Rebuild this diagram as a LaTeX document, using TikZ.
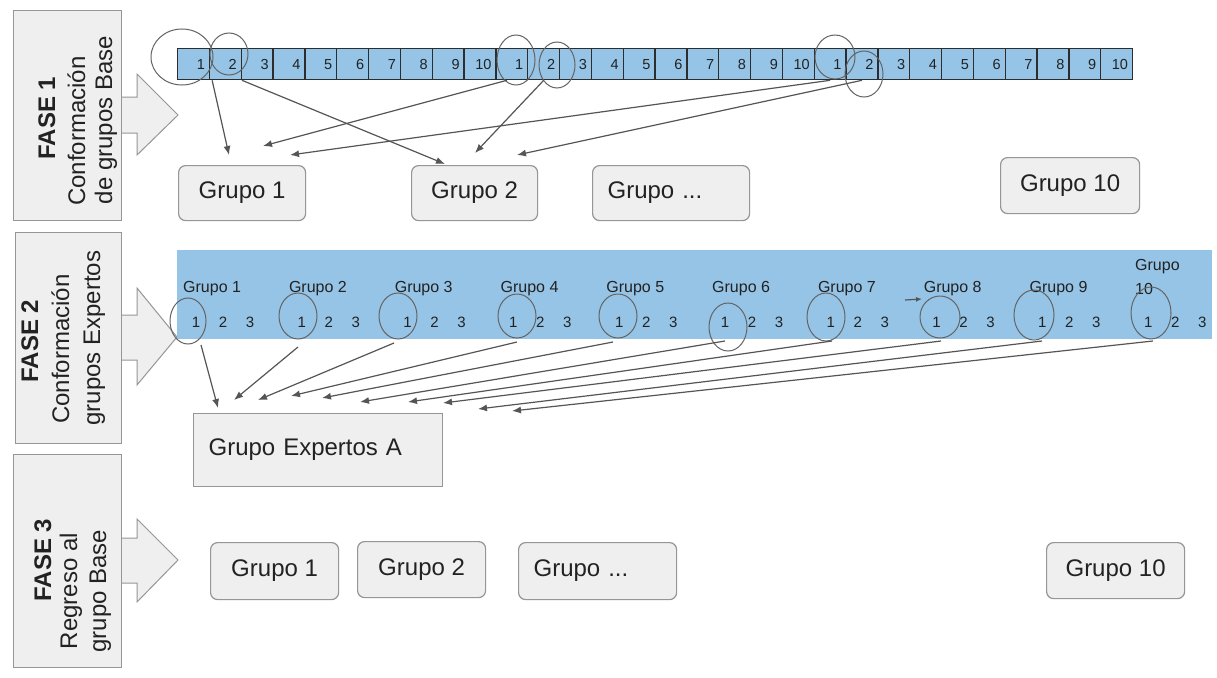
\documentclass[tikz,border=0pt]{standalone}
\usepackage{fontspec}
\setmainfont{Liberation Sans}
\usetikzlibrary{arrows.meta}
\definecolor{boxfill}{RGB}{239,239,239}
\definecolor{boxline}{RGB}{150,150,150}
\definecolor{bandblue}{RGB}{150,196,230}
\definecolor{cellline}{RGB}{45,45,45}
\definecolor{ink}{RGB}{34,34,34}
\definecolor{linkgray}{RGB}{85,85,85}
\definecolor{penmark}{RGB}{100,100,100}
\begin{document}
\begin{tikzpicture}[x=1pt,y=-1pt,
  every node/.style={text=ink},
  phasebox/.style={draw=boxline, fill=boxfill, line width=1.2pt, inner sep=0, anchor=north west},
  phasearrow/.style={draw=boxline, fill=boxfill, line width=1pt, line join=miter},
  phasetxt/.style={rotate=90, anchor=base, inner sep=0, font=\fontsize{24}{28}\selectfont},
  grp/.style={draw=boxline, fill=boxfill, rounded corners=7pt, line width=1.2pt, inner sep=0,
    anchor=north west, font=\fontsize{24}{28}\selectfont},
  grpleft/.style={grp, inner xsep=15pt, align=left},
  cell/.style={draw=cellline, fill=bandblue, line width=1.3pt, minimum width=31.83pt,
    minimum height=31pt, inner sep=0, anchor=north west},
  celltxt/.style={anchor=east, inner sep=0, font=\fontsize{14.5}{17}\selectfont},
  bandtxt/.style={anchor=west, inner sep=0, font=\fontsize{16}{19}\selectfont},
  numtxt/.style={inner sep=0, font=\fontsize{15}{18}\selectfont},
  pen/.style={draw=penmark, line width=1pt},
  link/.style={draw=linkgray, line width=1.2pt, -{Latex[length=9pt,width=7pt]}}
]
\useasboundingbox (0,0) rectangle (1217,677);
\fill[white] (0,0) rectangle (1217,677);

% ---------- phase arrows and phase labels ----------
\draw[phasearrow] (110,97) -- (137,97) -- (137,74) -- (178,115) -- (137,155) -- (137,133) -- (110,133) -- cycle;
\draw[phasearrow] (110,315) -- (137,315) -- (137,288) -- (177,337) -- (137,385) -- (137,360) -- (110,360) -- cycle;
\draw[phasearrow] (110,538) -- (137,538) -- (137,519) -- (178,560) -- (137,602) -- (137,583) -- (110,583) -- cycle;

\node[phasebox, minimum width=108pt, minimum height=210pt] (p1) at (13,10) {};
\node[phasebox, minimum width=106pt, minimum height=211pt] (p2) at (15,232) {};
\node[phasebox, minimum width=108pt, minimum height=213pt] (p3) at (13,454) {};

\node[phasetxt, font=\fontsize{24}{28}\selectfont\bfseries] (p1a) at (55,118) {FASE 1};
\node[phasetxt] (p1b) at (85,131) {Conformación};
\node[phasetxt] (p1c) at (112,120) {de grupos Base};

\node[phasetxt, font=\fontsize{24}{28}\selectfont\bfseries] (p2a) at (38,341) {FASE 2};
\node[phasetxt] (p2b) at (69,349) {Conformación};
\node[phasetxt] (p2c) at (100,338) {grupos Expertos};

\node[phasetxt, font=\fontsize{24}{28}\selectfont\bfseries] (p3a) at (51,560) {FASE 3};
\node[phasetxt] (p3b) at (77,591) {Regreso al};
\node[phasetxt] (p3c) at (106,591) {grupo Base};

% ---------- phase 1: numbered strip ----------
\foreach \i in {1,...,30} {
  \pgfmathtruncatemacro{\n}{mod(\i-1,10)+1}
  \node[cell] (c\i) at ({177+(\i-1)*31.83},48) {};
  \node[celltxt] (t\i) at ([xshift=-5pt]c\i.east) {\n};
}

% hand-drawn marks on the strip
\draw[pen] (182,57) ellipse [x radius=31, y radius=28];
\draw[pen] (229,54) ellipse [x radius=19, y radius=21];
\draw[pen] (516,60) ellipse [x radius=19, y radius=25];
\draw[pen] (557,65) ellipse [x radius=18, y radius=23];
\draw[pen] (835,57) ellipse [x radius=20, y radius=22];
\draw[pen] (864,74) ellipse [x radius=19, y radius=23];

% base groups
\node[grp, minimum width=127pt, minimum height=55pt] (g1) at (178,165) {Grupo 1};
\node[grp, minimum width=126pt, minimum height=55pt] (g2) at (411,165) {Grupo 2};
\node[grpleft, text width=127pt, minimum height=55pt] (gd) at (592,165) {Grupo ...};
\node[grp, minimum width=139pt, minimum height=56pt] (g10) at (1000,157) {Grupo 10};

\coordinate (fa) at (229,155);
\coordinate (fb) at (445,164);
\coordinate (fc) at (263,146);
\coordinate (fd) at (475,153);
\coordinate (fe) at (290,155);
\coordinate (ff) at (517,155);
\draw[link] ([xshift=2pt]c1.south east) -- (fa);
\draw[link] (c2.south east) -- (fb);
\draw[link] ([xshift=-5pt]c11.south) -- (fc);
\draw[link] (c12.south) -- (fd);
\draw[link] (c21.south) -- (fe);
\draw[link] (c22.south) -- (ff);

% ---------- phase 2: expert groups ----------
\node[fill=bandblue, inner sep=0, minimum width=1035pt, minimum height=89pt, anchor=north west] (band) at (177,250) {};

\foreach \k in {1,...,10} {
  \pgfmathsetmacro{\gx}{183+(\k-1)*105.8}
  \node[numtxt] (ga\k) at (\gx+13,322) {1};
  \node[numtxt] (gb\k) at (\gx+40,322) {2};
  \node[numtxt] (gc\k) at (\gx+67,322) {3};
}
\foreach \k in {1,...,9} {
  \pgfmathsetmacro{\gx}{183+(\k-1)*105.8}
  \node[bandtxt] (gl\k) at (\gx,289) {Grupo \k};
}
\node[bandtxt] (gl10) at (1135,267) {Grupo};
\node[bandtxt] (gl10b) at (1135,289) {10};

% hand-drawn marks around each "1"
\draw[pen] (188,321) ellipse [x radius=18, y radius=23];
\draw[pen] (298,316) ellipse [x radius=19, y radius=23];
\draw[pen] (398,316) ellipse [x radius=19, y radius=23];
\draw[pen] (517,316) ellipse [x radius=19, y radius=22];
\draw[pen] (618,316) ellipse [x radius=19, y radius=22];
\draw[pen] (728,327) ellipse [x radius=19, y radius=24];
\draw[pen] (826,317) ellipse [x radius=19, y radius=24];
\draw[pen] (940,317) ellipse [x radius=20, y radius=21];
\draw[pen] (1034,315) ellipse [x radius=20, y radius=25];
\draw[pen] (1151,313) ellipse [x radius=20, y radius=26];

\coordinate (sa) at (905,300);
\coordinate (sb) at (922,299);
\draw[link, -{Latex[length=6pt,width=5pt]}] (sa) -- (sb);

\node[draw=boxline, fill=boxfill, line width=1.2pt, inner sep=0, inner xsep=15pt, anchor=north west,
  text width=219pt, align=left, minimum height=73pt, font=\fontsize{24}{28}\selectfont] (ex) at (193,413) {Grupo Expertos A};

\foreach \k/\tx/\ty/\hx/\hy in {1/201/345/218/408, 2/298/347/234/400, 3/394/343/258/400,
    4/517/342/291/396, 5/613/342/322/398, 6/725/341/360/402, 7/832/341/408/402,
    8/941/341/443/403, 9/1042/341/478/409, 10/1153/341/512/411} {
  \coordinate (ta\k) at (\tx,\ty);
  \coordinate (he\k) at (\hx,\hy);
  \draw[link] (ta\k) -- (he\k);
}

% ---------- phase 3: back to base groups ----------
\node[grp, minimum width=128pt, minimum height=57pt] (b1) at (210,542) {Grupo 1};
\node[grp, minimum width=128pt, minimum height=56pt] (b2) at (357,541) {Grupo 2};
\node[grpleft, text width=128pt, minimum height=57pt] (bd) at (518,542) {Grupo ...};
\node[grp, minimum width=138pt, minimum height=56pt] (b10) at (1046,542) {Grupo 10};
\end{tikzpicture}
\end{document}
